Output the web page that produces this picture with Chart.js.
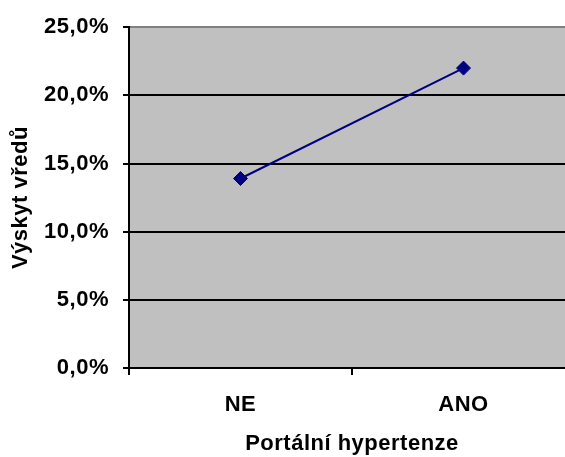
<!DOCTYPE html>
<html>
<head>
<meta charset="utf-8">
<script src="https://cdn.jsdelivr.net/npm/chart.js@4"></script>
<style>
html,body{margin:0;padding:0;background:#fff;overflow:hidden;width:565px;height:457px;}
#wrap{position:relative;width:565px;height:457px;overflow:hidden;}
canvas{display:block;}
</style>
</head>
<body>
<div id="wrap"><canvas id="c" width="583" height="457" style="width:583px;height:457px"></canvas></div>
<script>
const categories = ['NE', 'ANO'];
const values = [13.9, 22.0];
const yTicks = [0, 5, 10, 15, 20, 25];
const xTitle = 'Portální hypertenze';
const yTitle = 'Výskyt vředů';

const FONT = "'Liberation Sans', Arial, sans-serif";

const bgPlugin = {
  id: 'plotBg',
  beforeInit(chart) {
    try { chart.ctx.letterSpacing = '0.5px'; } catch (e) {}
  },
  beforeDraw(chart) {
    const a = chart.chartArea, ctx = chart.ctx;
    ctx.letterSpacing = '0.5px';
    ctx.save();
    ctx.fillStyle = '#C0C0C0';
    ctx.fillRect(a.left, a.top, a.right - a.left, a.bottom - a.top);
    ctx.restore();
  }
};

new Chart(document.getElementById('c'), {
  type: 'line',
  data: {
    labels: categories,
    datasets: [{
      data: values,
      borderColor: '#000080',
      backgroundColor: '#000080',
      borderWidth: 2,
      pointStyle: 'rectRot',
      pointRadius: 7,
      pointHoverRadius: 7,
      pointBorderWidth: 1,
      tension: 0,
      fill: false
    }]
  },
  options: {
    responsive: false,
    animation: false,
    events: [],
    layout: { padding: { top: 26, left: 0, right: 0, bottom: 0 } },
    plugins: { legend: { display: false }, tooltip: { enabled: false } },
    scales: {
      x: {
        type: 'category',
        offset: true,
        grid: {
          offset: true,
          drawOnChartArea: false,
          drawTicks: true,
          tickLength: 7,
          color: '#000',
          lineWidth: 2
        },
        border: { display: true, color: '#000', width: 2 },
        ticks: {
          color: '#000',
          padding: 17,
          font: { family: FONT, size: 22, weight: 'bold' },
          maxRotation: 0
        },
        title: {
          display: true,
          text: xTitle,
          color: '#000',
          padding: { top: 0, bottom: 0 },
          font: { family: FONT, size: 22, weight: 'bold' }
        },
        afterFit(scale) { scale.height = 89; }
      },
      y: {
        min: 0,
        max: 25,
        afterBuildTicks(scale) { scale.ticks = yTicks.map(v => ({ value: v })); },
        grid: {
          color: (c) => (c.tick && c.tick.value === 25) ? '#808080' : '#000',
          lineWidth: 2,
          tickLength: 6,
          tickColor: '#000'
        },
        border: { display: true, color: '#000', width: 2 },
        ticks: {
          color: '#000',
          padding: 14,
          font: { family: FONT, size: 22, weight: 'bold' },
          callback: (v) => v.toFixed(1).replace('.', ',') + '%'
        },
        title: {
          display: true,
          text: yTitle,
          color: '#000',
          padding: { top: 8, bottom: 0 },
          font: { family: FONT, size: 22, weight: 'bold' }
        },
        afterFit(scale) { scale.width = 129; }
      }
    }
  },
  plugins: [bgPlugin]
});
</script>
</body>
</html>
